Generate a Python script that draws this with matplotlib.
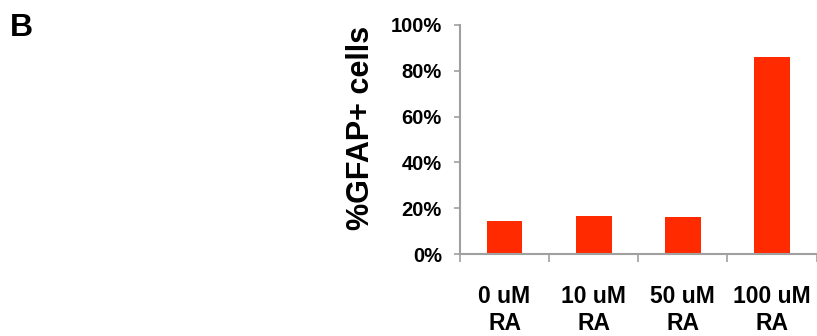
import matplotlib
matplotlib.use("Agg")
import matplotlib.pyplot as plt
from matplotlib.ticker import PercentFormatter

# data
groups = ["0 uM\nRA", "10 uM\nRA", "50 uM\nRA", "100 uM\nRA"]
gfap_pct = [0.145, 0.166, 0.163, 0.859]

plt.rcParams['font.family'] = ['Liberation Sans', 'DejaVu Sans']
plt.rcParams['font.weight'] = 'bold'

fig = plt.figure(figsize=(8.17, 3.36), dpi=100)
ax = fig.add_axes([460 / 817, 82 / 336, 356.5 / 817, 229 / 336])

x = range(len(groups))
ax.bar(x, gfap_pct, width=0.4, color='#ff2a00')

ax.set_xlim(-0.5, len(groups) - 0.5)
ax.set_ylim(0, 1)
ax.set_yticks([0, 0.2, 0.4, 0.6, 0.8, 1.0])
ax.yaxis.set_major_formatter(PercentFormatter(1.0, decimals=0))

ax.set_xticks(list(x))
ax.set_xticklabels(groups, fontsize=16.5, fontweight='bold', linespacing=1.25)
ax.set_xticks([i - 0.5 for i in range(len(groups) + 1)], minor=True)
ax.tick_params(axis='x', which='major', length=0, pad=22)
ax.tick_params(axis='x', which='minor', length=6, width=1.2, color='#a0a0a0')
ax.tick_params(axis='y', length=4, width=1.2, color='#a0a0a0', labelsize=14.5, pad=9)
for lbl in ax.get_yticklabels():
    lbl.set_fontweight('bold')

for side in ['top', 'right']:
    ax.spines[side].set_visible(False)
for side in ['left', 'bottom']:
    ax.spines[side].set_color('#a0a0a0')
    ax.spines[side].set_linewidth(1.5)

ax.set_ylabel('%GFAP+ cells', fontsize=22, fontweight='bold')
ax.yaxis.set_label_coords(-0.237, 0.552)

fig.text(10 / 817, 1 - 36 / 336, 'B', fontsize=23, fontweight='bold')

fig.savefig('out.png', dpi=100)
